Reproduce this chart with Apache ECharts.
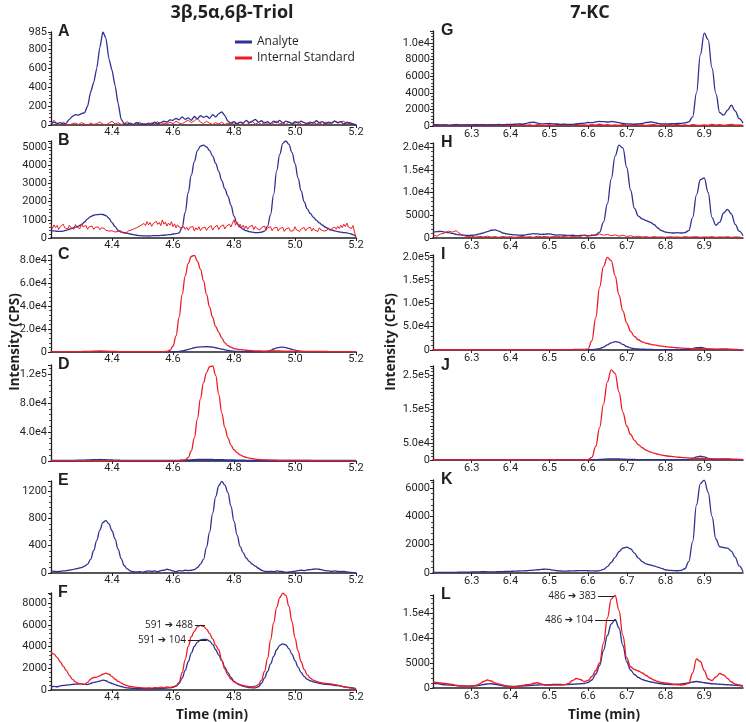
<!DOCTYPE html>
<html><head><meta charset="utf-8">
<script src="https://cdn.jsdelivr.net/npm/echarts@6/dist/echarts.min.js"></script>
<style>html,body{margin:0;padding:0;background:#fff}#c{width:746px;height:722px}</style>
</head><body><div id="c"></div><script>
// ---------- DATA ----------
const leftStart = 4.2, leftStep = 0.01, leftCount = 101;
const leftFineStep = 0.005, leftFineCount = 201;
const rightStart = 6.2, rightStep = 0.01, rightCount = 81;

const A_analyte = [10,30,15,25,10,20,60,90,110,105,
120,130,200,350,450,600,820,985,920,700,
580,420,230,60,15,10,20,5,25,10,
15,5,20,10,30,15,25,40,30,55,
50,70,55,85,60,75,50,90,65,100,
80,95,70,110,85,120,140,100,40,20,
35,15,30,20,50,25,40,60,30,45,
20,35,15,40,25,50,20,40,30,15,
35,20,40,25,10,30,20,45,25,35,
15,30,20,40,25,35,10,30,20,10,
5];
const A_internal = [20,50,10,0,30,5,0,15,20,5,
25,10,0,20,5,15,30,10,0,20,
40,10,25,5,15,35,10,0,20,30,
5,15,0,25,10,35,5,20,10,30,
15,40,20,10,35,50,25,45,70,30,
15,40,20,5,25,10,30,5,20,10,
25,5,30,15,0,20,35,10,25,5,
30,15,0,20,40,10,25,5,30,15,
20,35,10,0,25,15,30,10,20,5,
30,15,25,45,20,35,40,10,25,15,
0];
const B_analyte = [400,390,370,360,380,420,480,540,600,650,
740,880,1050,1180,1250,1280,1300,1290,1230,1080,
850,620,420,330,300,260,220,180,150,130,
120,120,110,120,130,130,140,150,170,190,
220,240,280,600,1400,2500,3450,4200,4800,5050,
5100,5000,4800,4500,4100,3650,3150,2700,2300,1800,
1200,800,600,480,400,350,320,300,290,320,
380,650,1300,2400,3700,4600,5200,5330,5150,4700,
4100,3300,2600,2000,1600,1350,1150,980,830,700,
590,500,440,390,350,320,300,280,240,180,
60];
// sampled every 0.005 min
const B_internal = [650,520,720,580,690,470,610,540,760,560,640,500,700,580,620,480,740,600,660,520,
780,610,540,690,480,620,560,650,470,590,520,610,450,560,480,530,420,500,380,470,
400,450,330,420,360,300,390,280,350,260,340,400,320,450,380,520,460,600,540,700,
620,800,680,900,720,850,640,780,700,920,750,860,680,990,760,880,650,820,700,900,
620,780,560,720,600,680,520,640,470,600,420,580,500,640,380,560,450,620,400,540,
480,600,420,560,500,680,430,580,520,700,460,620,540,720,500,640,560,760,600,820,
1000,700,880,620,760,560,700,520,660,480,620,540,700,460,640,520,600,440,580,500,
660,420,560,480,620,400,540,460,600,380,520,440,580,360,500,420,560,380,480,400,
620,440,540,360,500,420,580,400,520,460,600,380,540,420,500,360,560,440,520,380,
480,420,560,400,520,460,600,480,640,520,700,560,760,620,820,600,700,520,680,760,
0];
const C_analyte = [150,120,180,140,200,160,130,170,150,190,
160,200,250,300,350,400,450,420,350,280,
220,180,150,140,120,130,110,120,100,110,
120,100,110,130,120,140,130,150,160,180,
200,300,500,900,1500,2200,3000,3700,4200,4400,
4500,4600,4500,4200,3700,3100,2500,1900,1400,1000,
700,500,400,300,250,220,200,200,220,250,
300,600,1400,2600,3600,4100,4200,3800,3100,2300,
1600,1000,600,400,300,250,220,200,180,160,
150,140,130,120,110,120,100,110,100,90,
80];
const C_internal = [400,300,350,250,300,280,320,260,300,350,
400,450,500,600,700,800,850,800,700,600,
500,450,400,350,300,280,300,260,280,300,
280,300,320,300,350,330,380,400,500,1500,
5000,14000,30000,50000,66000,77000,83000,84000,79000,72000,
62000,50000,39000,30000,22000,17000,12000,8000,5500,4200,
3000,2500,2100,1800,1500,1300,1100,1000,900,850,
800,800,850,900,900,850,800,750,700,650,
600,580,550,520,500,480,460,450,440,430,
420,410,400,390,380,370,360,350,340,330,
300];
const D_analyte = [300,300,350,300,400,350,400,450,500,600,
700,800,1000,1200,1400,1500,1600,1500,1300,1100,
900,700,600,500,450,400,350,350,300,300,
300,300,300,350,300,300,350,300,350,400,
400,450,500,600,800,1000,1200,1400,1600,1700,
1800,1800,1700,1600,1500,1400,1300,1200,1100,1000,
900,800,700,600,500,450,400,350,300,300,
300,300,350,400,450,500,450,400,350,300,
300,300,300,300,300,300,300,300,300,300,
300,300,300,300,300,300,300,300,300,300,
300];
const D_internal = [600,550,600,500,550,600,500,550,500,600,
550,500,600,550,500,550,600,500,550,500,
550,500,600,550,500,450,500,550,500,450,
500,450,500,550,500,450,500,550,500,500,
550,600,650,700,1500,5000,14000,32000,58000,86000,
108000,122000,130000,131000,118000,92000,66000,46000,32000,22000,
15500,11500,8500,6500,5000,4000,3200,2600,2100,1800,
1500,1350,1200,1100,1000,950,900,850,800,780,
760,740,720,700,680,660,650,640,630,620,
610,600,600,590,580,570,560,550,540,530,
520];
const E_analyte = [30,25,20,25,30,35,40,50,60,70,
80,100,130,200,330,480,630,740,770,720,
620,500,350,210,110,60,30,20,15,20,
10,25,30,25,30,20,35,40,55,45,
30,20,35,30,40,35,40,50,80,130,
200,380,600,880,1120,1280,1345,1290,1180,980,
760,560,390,300,220,170,130,100,70,40,
25,20,25,20,30,25,20,10,15,20,
25,35,40,35,45,50,55,60,55,45,
35,30,25,30,25,20,25,15,10,5,
0];
const F_internal = [3450,3300,3000,2600,2200,1800,1350,1000,750,600,
560,520,700,1000,1150,1180,1300,1450,1550,1450,
1250,1000,800,650,500,400,330,280,250,220,
200,180,200,170,220,200,260,220,280,250,
300,400,700,1600,2800,4000,4900,5400,5800,5950,
5850,5600,5200,4700,4100,3700,2700,1900,1400,1000,
760,600,500,420,350,300,300,350,500,900,
1700,2900,4600,6200,7600,8500,8900,8700,7700,6300,
4800,3600,2600,1900,1400,1100,900,800,700,650,
600,580,550,500,450,380,300,250,200,150,
100];
const F_analyte = [300,330,300,380,420,450,480,520,540,550,
560,520,500,600,700,750,820,900,850,700,
600,500,400,320,250,200,170,150,140,130,
130,120,130,120,130,140,150,160,180,200,
250,350,600,1100,1800,2600,3400,4000,4400,4600,
4650,4650,4500,4200,3700,3200,2700,2100,1600,1150,
800,600,450,350,280,220,200,200,300,600,
1100,1700,2400,3100,3700,4100,4250,4150,3800,3300,
2700,2100,1600,1250,1000,850,750,680,620,570,
530,500,470,430,400,350,300,260,230,200,
100];
const G_analyte = [150,120,140,130,110,120,140,120,130,150,
120,140,160,150,130,170,140,180,150,200,
180,220,250,230,300,420,450,350,250,280,
300,260,240,200,220,180,200,250,300,350,
420,400,500,560,520,480,540,500,400,300,
260,240,220,260,300,420,480,440,320,260,
240,260,280,300,320,380,500,1100,4000,8600,
11200,10400,7000,3900,1600,1300,1900,2500,1800,900,
350];
const G_internal = [80,150,60,120,40,100,170,70,130,50,
110,180,60,140,90,30,120,160,70,110,
50,140,90,170,60,120,40,150,100,70,
130,60,180,90,140,50,110,170,80,120,
60,150,100,200,90,160,70,130,50,140,
100,60,170,80,130,40,120,160,70,110,
50,140,90,170,60,120,40,150,100,70,
130,60,180,90,140,50,110,170,80,120,
60];
const H_analyte = [1300,1400,1450,1300,1200,1000,800,700,600,550,
600,700,900,1100,1400,1700,1800,1500,1100,900,
800,700,650,600,700,850,950,900,800,850,
900,750,650,700,600,550,600,500,550,600,
500,550,700,1300,3500,7500,13000,18000,20400,19800,
15500,10500,6500,4800,4200,3800,3500,3000,2200,1600,
1300,1200,1100,1200,1100,1200,1600,4500,9500,12800,
13200,10000,4500,2800,3500,5500,6300,5300,3000,1500,
500];
const H_internal = [700,400,900,1100,1500,1300,1600,900,500,300,
400,200,350,250,400,200,300,150,350,200,
300,150,250,350,200,300,150,400,250,350,
200,300,400,250,350,500,300,450,350,600,
400,700,500,900,600,800,500,700,400,600,
350,500,250,400,200,300,150,300,200,250,
150,300,200,250,150,300,200,250,300,150,
250,200,300,150,250,200,300,150,250,200,
100];
const I_analyte = [500,500,450,500,550,500,450,500,500,550,
500,450,500,550,600,550,500,450,500,500,
450,500,500,450,500,550,500,500,450,500,
500,550,500,600,700,800,1000,1300,1500,1200,
900,800,1500,3000,6000,11000,15500,18000,16500,12000,
7500,4500,3000,2200,1800,1500,1200,1000,900,800,
700,700,650,600,600,700,1200,3000,5000,5500,
4200,2000,1000,900,1300,1900,1800,1200,700,500,
400];
const I_internal = [600,550,600,500,550,600,550,500,550,600,
550,500,550,600,550,500,550,500,600,550,
500,550,600,550,500,550,600,550,500,550,
600,550,500,550,600,650,700,800,900,800,
2000,20000,70000,135000,180000,199000,192000,160000,118000,84000,
58000,40000,29000,22000,17500,14500,12500,11000,9500,8300,
7200,6300,5500,4800,4200,3700,3300,3000,2800,2700,
2600,2400,2200,2000,1900,1800,1600,1400,1200,1000,
800];
const J_analyte = [300,300,350,300,300,350,300,300,350,300,
300,350,300,300,350,300,300,350,300,300,
350,300,300,350,300,300,350,300,300,350,
300,300,350,300,300,350,300,400,450,400,
400,500,800,1500,2500,3200,3500,3400,3000,2500,
2000,1600,1400,1200,1100,1000,950,900,900,850,
850,800,800,800,850,900,1500,4500,9000,11000,
9000,5000,2500,1500,1800,2500,2200,1500,900,600,
400];
const J_internal = [400,400,400,400,400,400,400,400,400,400,
400,400,400,400,400,400,400,400,400,400,
400,400,400,400,400,400,400,400,400,400,
400,400,400,400,400,400,400,450,500,600,
800,8000,40000,95000,165000,230000,265000,255000,200000,140000,
100000,75000,58000,45000,36000,29000,24000,20000,17000,14500,
12500,11000,9800,8600,7600,6800,6000,5400,5000,4600,
4300,4000,3700,3400,3300,3500,3200,2800,2400,2000,
1600];
const K_analyte = [40,50,45,50,40,45,50,55,60,65,
70,80,85,90,85,80,85,90,100,110,
120,130,140,150,160,180,200,230,260,270,
250,200,160,140,130,140,150,160,170,170,
160,150,140,170,250,450,750,1100,1500,1750,
1820,1700,1400,1050,800,650,580,500,420,320,
230,190,170,160,180,300,800,2200,4800,6300,
6550,5700,4000,2400,1850,1800,1750,1550,1100,500,
80];
const L_internal = [1300,1100,1000,900,800,700,500,400,400,350,
400,500,800,1300,1600,1400,1000,800,600,400,
300,250,350,500,650,700,950,1050,800,600,
550,600,580,600,650,900,1500,1900,1700,1300,
1500,2300,3500,5000,9000,14000,17800,18500,15500,10500,
6000,4200,3700,3400,3000,2500,2000,1600,1300,1100,
1000,900,750,650,600,700,1000,3000,5800,5300,
3500,1800,1500,2200,2900,2600,1900,1200,800,600,
400];
const L_analyte = [1000,900,750,650,600,550,500,450,400,380,
400,450,550,700,800,850,750,600,450,350,
300,300,350,400,450,500,550,600,620,600,
650,700,720,700,680,700,750,800,850,900,
1100,1600,2800,4500,7500,10500,12800,13700,12000,8500,
5200,3600,2700,2100,1700,1450,1250,1100,950,850,
750,700,700,750,800,900,1000,1200,1300,1200,
1050,950,850,800,750,700,650,600,550,500,
400];

// annotation labels (transition names) and where they point: [xStart, xEnd, y]
const F_labels = ['591 \u2794 488', '591 \u2794 104'];
const F_labelAt = [[4.672, 4.705, 5980], [4.649, 4.711, 4600]];
const L_labels = ['486 \u2794 383', '486 \u2794 104'];
const L_labelAt = [[6.626, 6.668, 18400], [6.618, 6.672, 13600]];

const seriesNames = ['Analyte', 'Internal Standard'];
const columnTitles = ['3\u03b2,5\u03b1,6\u03b2-Triol', '7-KC'];
const axisTitles = ['Intensity (CPS)', 'Time (min)'];

// ---------- BUILD ----------
function times(start, step, n){ const t=[]; for(let i=0;i<n;i++) t.push(+(start+i*step).toFixed(4)); return t; }
const leftT = times(leftStart, leftStep, leftCount);
const leftTF = times(leftStart, leftFineStep, leftFineCount);
const rightT = times(rightStart, rightStep, rightCount);
function pts(t, v){ return v.map((y,i)=>[t[i], y]); }

const BLUE = '#2e3192', RED = '#ed1c24', INK = '#231f20';
const AN = seriesNames[0], IS = seriesNames[1];

const panels = [
 {id:'A', col:0, top:32,  h:93, max:985,    interval:200,   showMax:true,
  lines:[[IS, leftT, A_internal, false, 1], [AN, leftT, A_analyte, 0.2, 1.3]]},
 {id:'B', col:0, top:141, h:97, max:5330,   interval:1000,
  lines:[[AN, leftT, B_analyte, 0.4, 1.3], [IS, leftTF, B_internal, false, 1]]},
 {id:'C', col:0, top:255, h:97, max:84300,  interval:20000,
  lines:[[AN, leftT, C_analyte, 0.4, 1.3], [IS, leftT, C_internal, 0.4, 1.3]]},
 {id:'D', col:0, top:365, h:96, max:132400, interval:40000,
  lines:[[AN, leftT, D_analyte, 0.4, 2], [IS, leftT, D_internal, 0.4, 1.3]]},
 {id:'E', col:0, top:481, h:92, max:1350,   interval:400,
  lines:[[AN, leftT, E_analyte, 0.4, 1.3]]},
 {id:'F', col:0, top:593, h:97, max:8920,   interval:2000,
  lines:[[AN, leftT, F_analyte, 0.4, 1.3], [IS, leftT, F_internal, 0.4, 1.3]],
  notes:[F_labels, F_labelAt]},
 {id:'G', col:1, top:31,  h:95, max:11450,  interval:2000,
  lines:[[IS, rightT, G_internal, false, 1.5], [AN, rightT, G_analyte, 0.4, 1.3]]},
 {id:'H', col:1, top:143, h:95, max:20880,  interval:5000,
  lines:[[AN, rightT, H_analyte, 0.4, 1.3], [IS, rightT, H_internal, false, 1]]},
 {id:'I', col:1, top:255, h:95, max:204300, interval:50000,
  lines:[[AN, rightT, I_analyte, 0.4, 1.3], [IS, rightT, I_internal, 0.4, 1.3]]},
 {id:'J', col:1, top:366, h:94, max:276500, interval:50000, hide:[100000,200000],
  lines:[[AN, rightT, J_analyte, 0.4, 1.3], [IS, rightT, J_internal, 0.4, 1.3]]},
 {id:'K', col:1, top:480, h:93, max:6560,   interval:2000,
  lines:[[AN, rightT, K_analyte, 0.4, 1.3]]},
 {id:'L', col:1, top:595, h:93, max:18600,  interval:5000,
  lines:[[AN, rightT, L_analyte, 0.4, 1.3], [IS, rightT, L_internal, 0.4, 1.3]],
  notes:[L_labels, L_labelAt]}
];

const FONT = 'Roboto';
function fmtY(v){ if (v === 0) return '0'; if (v >= 1e4) return v.toExponential(1).replace('e+','e'); return String(Math.round(v)); }

const grid=[], xAxis=[], yAxis=[], series=[], graphic=[];
panels.forEach((p, i) => {
  const left = p.col === 0 ? 51 : 433;
  const width = p.col === 0 ? 305 : 310;
  grid.push({left, top:p.top, width, height:p.h, containLabel:false, outerBoundsMode:'none'});
  xAxis.push({type:'value', gridIndex:i,
    min: p.col===0 ? 4.2 : 6.2, max: p.col===0 ? 5.2 : 7.0, interval: p.col===0 ? 0.2 : 0.1,
    axisLine:{show:true, onZero:false, lineStyle:{color:INK, width:1.5}},
    axisTick:{show:true, length:3, lineStyle:{color:INK}},
    splitLine:{show:false},
    axisLabel:{show:true, margin: p.col===0 ? 2 : 3, color:INK, fontFamily:FONT, fontSize:11,
      showMinLabel:false, showMaxLabel: p.col===0,
      formatter: v => v.toFixed(1)}});
  const hide = p.hide || [];
  yAxis.push({type:'value', gridIndex:i, min:0, max:p.max, interval:p.interval,
    axisLine:{show:true, lineStyle:{color:INK, width:1.3}},
    axisTick:{show:true, length:3, lineStyle:{color:INK}},
    minorTick:{show:true, splitNumber:5, length:2, lineStyle:{color:INK, width:0.8}},
    splitLine:{show:false},
    axisLabel:{margin: p.col===0 ? 4 : 3, color:INK, fontFamily:FONT, fontSize:11,
      showMaxLabel: !!p.showMax, showMinLabel:true,
      formatter: v => hide.includes(v) ? '' : fmtY(v)}});
  p.lines.forEach((ln, k) => {
    const s = {type:'line', name:ln[0], xAxisIndex:i, yAxisIndex:i,
      data: pts(ln[1], ln[2]), showSymbol:false, symbol:'none',
      smooth: ln[3], smoothMonotone: ln[3] ? 'x' : undefined,
      color: ln[0]===AN ? BLUE : RED,
      lineStyle:{width: ln[4], color: ln[0]===AN ? BLUE : RED},
      animation:false, silent:true, z: 2 + k};
    if (p.notes && k === 0) {
      const [labels, at] = p.notes;
      s.markLine = {silent:true, symbol:['none','none'], animation:false,
        lineStyle:{color:INK, width:1, type:'solid'},
        label:{show:true, position:'start', distance:2, color:INK, fontFamily:'Open Sans, DejaVu Sans', fontSize:10, formatter: prm => prm.name},
        emphasis:{disabled:true},
        data: labels.map((lab, j) => [
          {name:lab, coord:[at[j][0], at[j][2]]},
          {coord:[at[j][1], at[j][2]]}
        ])};
    }
    series.push(s);
  });
  graphic.push({type:'text', x: p.col===0 ? 58 : 441, y: p.top, silent:true,
    style:{text:p.id, font:'bold 16px "Liberation Sans"', fill:INK,
      align:'left', verticalAlign:'middle', textAlign:'left', textVerticalAlign:'middle'}});
});

function ctext(text, x, y, font, rot){
  return {type:'text', x, y, rotation: rot || 0, silent:true,
    style:{text, font, fill:INK, align:'center', verticalAlign:'middle', textAlign:'center', textVerticalAlign:'middle'}};
}
graphic.push(ctext(columnTitles[0], 232, 13, 'bold 18px "Open Sans"'));
graphic.push(ctext(columnTitles[1], 590, 13, 'bold 18px "Open Sans"'));
graphic.push(ctext(axisTitles[0], 15, 342, 'bold 13.5px "Open Sans"', Math.PI/2));
graphic.push(ctext(axisTitles[0], 391, 342, 'bold 13.5px "Open Sans"', Math.PI/2));
graphic.push(ctext(axisTitles[1], 212, 715, 'bold 13.5px "Open Sans"'));
graphic.push(ctext(axisTitles[1], 604, 715, 'bold 13.5px "Open Sans"'));

const chart = echarts.init(document.getElementById('c'), null, {renderer:'canvas'});
chart.setOption({
  backgroundColor:'#fff',
  animation:false,
  legend:{data:[{name:AN, icon:'rect'}, {name:IS, icon:'rect'}], left:235, top:36, orient:'vertical',
    itemWidth:17, itemHeight:3, itemGap:4, padding:0, selectedMode:false,
    textStyle:{fontFamily:'Open Sans', fontSize:12, color:INK}},
  grid, xAxis, yAxis, series, graphic
});
</script></body></html>
